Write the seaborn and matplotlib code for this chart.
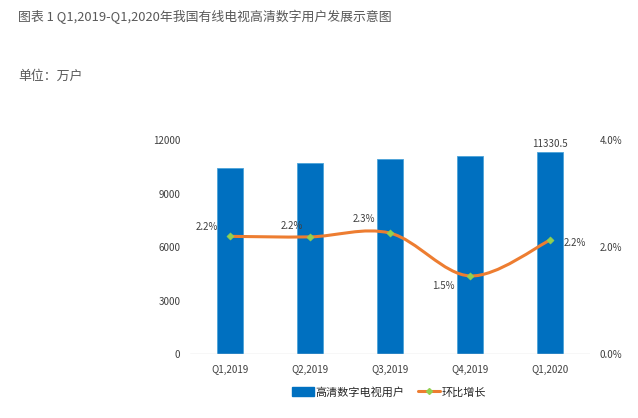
import numpy as np
import matplotlib
matplotlib.use("Agg")
import matplotlib.pyplot as plt
import seaborn as sns
from matplotlib.path import Path
from matplotlib.patches import PathPatch, Patch
from matplotlib.lines import Line2D

# data
quarters = ["Q1,2019", "Q2,2019", "Q3,2019", "Q4,2019", "Q1,2020"]
users = [10430, 10700, 10930, 11080, 11330.5]          # 万户
growth = [2.20, 2.19, 2.26, 1.46, 2.13]                # 环比增长 %
growth_labels = ["2.2%", "2.2%", "2.3%", "1.5%", "2.2%"]
left_ticks = [0, 3000, 6000, 9000, 12000]
right_ticks = [0, 2, 4]

sns.set_theme(style="white")
plt.rcParams["font.family"] = ["Noto Sans CJK SC", "DejaVu Sans"]

bar_color = "#0070C0"
line_color = "#ED7D31"
dot_color = "#92D050"
txt = "#404040"

fig = plt.figure(figsize=(6.38, 4.18), dpi=100)
ax = fig.add_axes([0.298, 0.153, 0.627, 0.512])

sns.barplot(x=quarters, y=users, color=bar_color, saturation=1, width=0.32,
            edgecolor="#4BA3D9", linewidth=0.6, ax=ax)
ax.set_xlim(-0.5, 4.5)
ax.set_ylim(0, 12000)
ax.set_yticks(left_ticks)
ax.set_yticklabels([str(t) for t in left_ticks])
ax.tick_params(axis="both", labelsize=7, colors=txt, length=0, pad=8)
ax.tick_params(axis="y", pad=7)
for s in ax.spines.values():
    s.set_visible(False)
ax.axhline(0, color="#D9D9D9", lw=1)
ax.set_xlabel("")
ax.set_ylabel("")
ax.text(4, users[-1] + 150, f"{users[-1]}", ha="center", va="bottom",
        fontsize=7, color=txt)

ax2 = ax.twinx()
ax2.set_ylim(0, 4)
ax2.set_yticks(right_ticks)
ax2.set_yticklabels([f"{t:.1f}%" for t in right_ticks])
ax2.tick_params(axis="y", labelsize=7, colors=txt, length=0, pad=7)
for s in ax2.spines.values():
    s.set_visible(False)
ax2.grid(False)

# smooth curve (Catmull-Rom as cubic Bezier) through the growth points
xs = np.arange(len(growth), dtype=float)
ys = np.array(growth, dtype=float)
verts = [(xs[0], ys[0])]
codes = [Path.MOVETO]
t = 1 / 6
for i in range(len(xs) - 1):
    p0 = (xs[max(i - 1, 0)], ys[max(i - 1, 0)])
    p1 = (xs[i], ys[i])
    p2 = (xs[i + 1], ys[i + 1])
    p3 = (xs[min(i + 2, len(xs) - 1)], ys[min(i + 2, len(xs) - 1)])
    c1 = (p1[0] + (p2[0] - p0[0]) * t, p1[1] + (p2[1] - p0[1]) * t)
    c2 = (p2[0] - (p3[0] - p1[0]) * t, p2[1] - (p3[1] - p1[1]) * t)
    verts += [c1, c2, p2]
    codes += [Path.CURVE4] * 3
ax2.add_patch(PathPatch(Path(verts, codes), fill=False, edgecolor=line_color,
                        lw=2.2, capstyle="round", zorder=3))
sns.scatterplot(x=xs, y=ys, marker="D", s=14, color=dot_color,
                edgecolor=dot_color, zorder=4, ax=ax2)

# label offsets in points
offsets = [(-17, 6.5), (-13, 8), (-19, 10), (-19, -7), (18, -2)]
for x, y, lab, (dx, dy) in zip(xs, ys, growth_labels, offsets):
    ax2.annotate(lab, (x, y), xytext=(dx, dy), textcoords="offset points",
                 ha="center", va="center", fontsize=7, color=txt)

handles = [Patch(facecolor=bar_color, edgecolor=bar_color),
           Line2D([0], [0], color=line_color, lw=2.2, marker="D",
                  markersize=3, markerfacecolor=dot_color,
                  markeredgecolor=dot_color)]
fig.legend(handles, ["高清数字电视用户", "环比增长"], loc="center",
           bbox_to_anchor=(0.61, 0.062), ncol=2, frameon=False,
           fontsize=8, handlelength=2.0, handleheight=0.8,
           columnspacing=1.2, handletextpad=0.15, labelcolor="#262626")

fig.text(0.028, 0.96, "图表 1 Q1,2019-Q1,2020年我国有线电视高清数字用户发展示意图",
         fontsize=9.3, color="#595959", va="center")
fig.text(0.028, 0.818, "单位：万户", fontsize=9.3, color="#595959", va="center")

fig.savefig("out.png", dpi=100, facecolor="white")
